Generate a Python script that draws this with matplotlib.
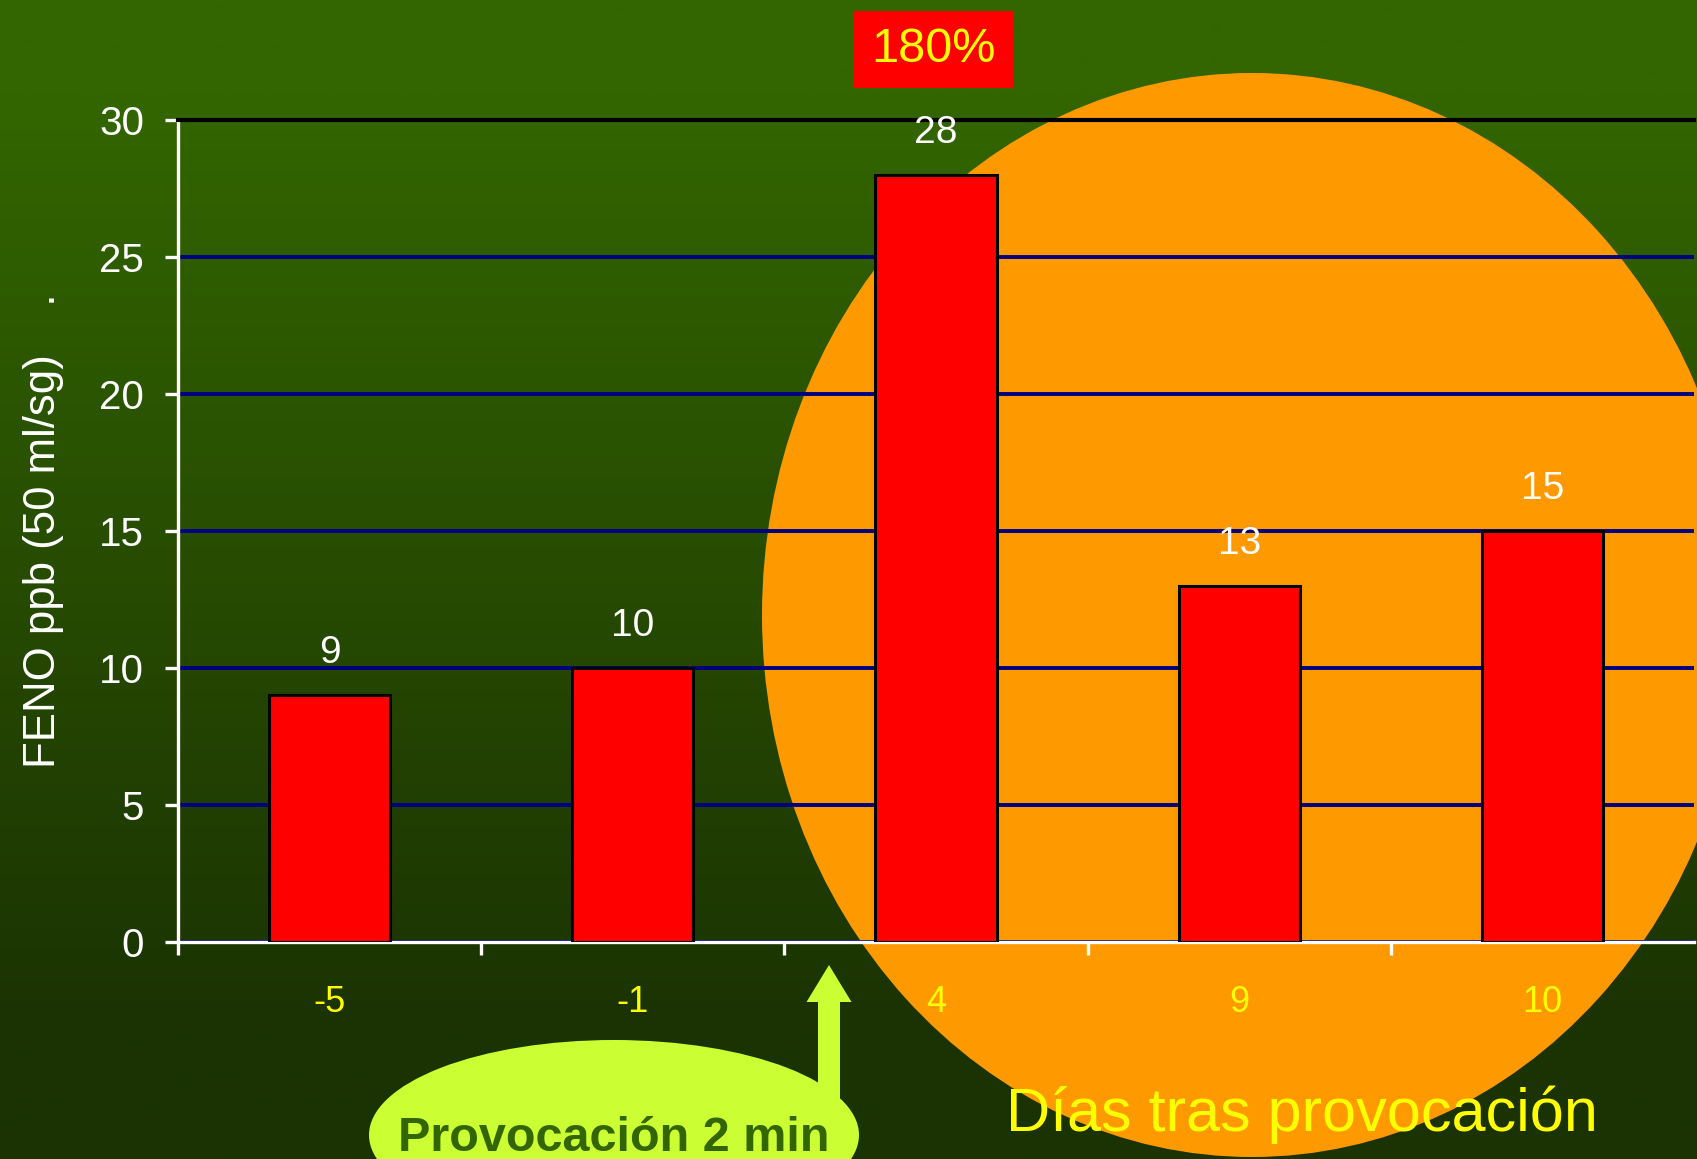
import numpy as np
import matplotlib
matplotlib.use('Agg')
import matplotlib.pyplot as plt
from matplotlib.patches import Ellipse, Rectangle, FancyArrow
from matplotlib import font_manager

# ---- data ----
categories = ['-5', '-1', '4', '9', '10']
feno_values = [9, 10, 28, 13, 15]
y_ticks = [0, 5, 10, 15, 20, 25, 30]
y_label = 'FENO ppb (50 ml/sg)'
x_title = 'Días tras provocación'
increase_label = '180%'
challenge_label = 'Provocación 2 min'

W, H = 1697, 1159
DPI = 100
names = {f.name for f in font_manager.fontManager.ttflist}
NARROW = 'Liberation Sans Narrow' if 'Liberation Sans Narrow' in names else 'Liberation Sans'
REG = 'Liberation Sans'

fig = plt.figure(figsize=(W / DPI, H / DPI), dpi=DPI)

# ---- background layer (pixel coordinates) ----
bg = fig.add_axes([0, 0, 1, 1], zorder=0)
rows = np.linspace(0, 1, 512)
top = np.array([51, 102, 0]) / 255
bot = np.array([27, 51, 3]) / 255
t = np.clip((rows - 0.08) / 0.80, 0, 1)
grad = top[None, :] * (1 - t[:, None]) + bot[None, :] * t[:, None]
bg.imshow(grad[:, None, :], extent=(0, W, H, 0), aspect='auto', interpolation='bilinear')
bg.set_xlim(0, W)
bg.set_ylim(H, 0)
bg.axis('off')

bg.add_patch(Ellipse((1252, 615), 980, 1084, facecolor='#FF9900', edgecolor='none', zorder=2))
bg.add_patch(Ellipse((614, 1135), 490, 190, facecolor='#CCFF33', edgecolor='none', zorder=3))
bg.add_patch(FancyArrow(829, 1100, 0, -135, width=22, head_width=45, head_length=37,
                        length_includes_head=True, facecolor='#CCFF33', edgecolor='none', zorder=3))
bg.add_patch(Rectangle((853, 11), 161, 77, facecolor='#FF0000', edgecolor='none', zorder=3))
bg.text(933.5, 50, increase_label, color='#FFFF00', fontsize=35, family=NARROW,
        ha='center', va='center', zorder=4)
bg.text(1302, 1131, x_title, color='#FFFF00', fontsize=44, family=REG,
        ha='center', va='baseline', zorder=4)
bg.text(614, 1151, challenge_label, color='#336600', fontsize=35, family=REG,
        fontweight='bold', ha='center', va='baseline', zorder=4)

# ---- main chart ----
ax = fig.add_axes([178 / W, 1 - 941.7 / H, (1694 - 178) / W, (941.7 - 120) / H], zorder=2)
ax.set_facecolor('none')
x = np.arange(len(categories))
ax.bar(x, feno_values, width=0.4, color='#FF0000', edgecolor='black', linewidth=2.2, zorder=3)
for xi, v in zip(x, feno_values):
    ax.annotate(str(v), (xi, v), xytext=(0, 23), textcoords='offset points',
                ha='center', va='baseline', color='white', fontsize=28, family=NARROW)

ax.set_xlim(-0.5, len(categories) - 0.5)
ax.set_ylim(0, 30)
ax.set_yticks(y_ticks)
ax.set_yticklabels([str(v) for v in y_ticks], color='white', fontsize=29, family=NARROW)
ax.yaxis.grid(True, color='#000080', linewidth=2.8)
ax.set_axisbelow(True)

ax.set_xticks(np.arange(-0.5, len(categories) - 0.5, 1.0))
ax.set_xticklabels([])
ax.set_xticks(x, minor=True)
ax.set_xticklabels(categories, minor=True, color='#FFFF00', fontsize=26, family=NARROW)
ax.tick_params(axis='x', which='major', direction='out', length=9.5, width=2.4, color='white')
ax.tick_params(axis='x', which='minor', length=0, pad=31)
ax.tick_params(axis='y', direction='out', length=9.5, width=2.4, color='white', pad=15)

for s in ['left', 'bottom']:
    ax.spines[s].set_color('white')
    ax.spines[s].set_linewidth(2.4)
ax.spines['top'].set_color('black')
ax.spines['top'].set_linewidth(3)
ax.spines['right'].set_visible(False)

ax.set_ylabel(y_label + '    .', fontsize=31.5, color='white', family=NARROW)
ax.yaxis.set_label_coords(-0.0752, 0.5)

fig.savefig('out.png', dpi=DPI)
